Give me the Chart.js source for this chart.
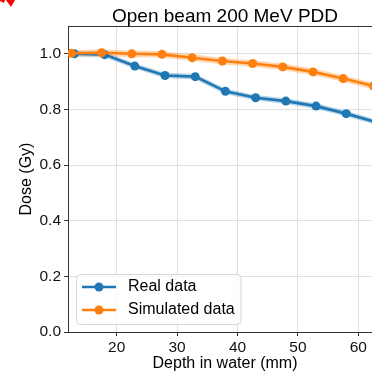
<!DOCTYPE html>
<html>
<head>
<meta charset="utf-8">
<script src="https://cdn.jsdelivr.net/npm/chart.js@4.4.0/dist/chart.umd.min.js"></script>
<style>
  html, body { margin: 0; padding: 0; background: #fff; overflow: hidden; }
  #wrap { width: 400px; height: 375px; }
</style>
</head>
<body>
<div id="wrap"><canvas id="pdd-chart" width="400" height="375"></canvas></div>
<script>
// Data
const realDepth = [13, 18, 23, 28, 33, 38, 43, 48, 53, 58, 63];
const realDose  = [1.000, 0.997, 0.956, 0.922, 0.918, 0.865, 0.842, 0.830, 0.812, 0.785, 0.754];
const realErr   = [0.010, 0.010, 0.010, 0.010, 0.010, 0.010, 0.010, 0.010, 0.010, 0.010, 0.010];

const simDepth = [12.5, 17.5, 22.5, 27.5, 32.5, 37.5, 42.5, 47.5, 52.5, 57.5, 62.5];
const simDose  = [1.002, 1.004, 1.000, 0.998, 0.986, 0.974, 0.965, 0.953, 0.935, 0.911, 0.884];
const simErr   = [0.012, 0.012, 0.012, 0.012, 0.012, 0.012, 0.012, 0.012, 0.012, 0.012, 0.012];

const xTicks = [20, 30, 40, 50, 60];
const yTicks = [0.0, 0.2, 0.4, 0.6, 0.8, 1.0];

const BLUE = '#1f77b4';
const ORANGE = '#ff7f0e';
const FONT = '"Liberation Sans", Arial, sans-serif';

const pts = (xs, ys) => xs.map((x, i) => ({ x: x, y: ys[i] }));
const shift = (ys, es, s) => ys.map((y, i) => y + s * es[i]);

// top spine, legend box, title and the little red mark in the corner
const extras = {
    id: 'extras',
    afterDraw(chart) {
        const ctx = chart.ctx;
        const a = chart.chartArea;
        ctx.save();

        ctx.strokeStyle = '#333';
        ctx.lineWidth = 1;
        ctx.beginPath();
        ctx.moveTo(a.left, a.top + 0.5);
        ctx.lineTo(a.right, a.top + 0.5);
        ctx.stroke();

        // title
        ctx.fillStyle = '#000';
        ctx.font = '19px ' + FONT;
        ctx.textAlign = 'center';
        ctx.textBaseline = 'alphabetic';
        ctx.fillText('Open beam 200 MeV PDD', (a.left + a.right) / 2, 21.5);

        // legend
        const bx = 76.5, by = 274.5, bw = 164.5, bh = 50;
        ctx.fillStyle = 'rgba(255,255,255,0.8)';
        ctx.strokeStyle = '#d6d6d6';
        ctx.beginPath();
        ctx.roundRect(bx, by, bw, bh, 4);
        ctx.fill();
        ctx.stroke();
        const items = [['Real data', BLUE, 287], ['Simulated data', ORANGE, 310]];
        ctx.font = '16px ' + FONT;
        ctx.textAlign = 'left';
        ctx.textBaseline = 'middle';
        items.forEach(([label, col, y]) => {
            ctx.strokeStyle = col;
            ctx.lineWidth = 2.6;
            ctx.beginPath();
            ctx.moveTo(82, y);
            ctx.lineTo(116, y);
            ctx.stroke();
            ctx.fillStyle = col;
            ctx.beginPath();
            ctx.arc(99, y, 4.5, 0, Math.PI * 2);
            ctx.fill();
            ctx.fillStyle = '#000';
            ctx.fillText(label, 128, y);
        });

        // red fragment at the top-left corner
        ctx.fillStyle = '#ff0000';
        ctx.beginPath();
        ctx.moveTo(0, 0); ctx.lineTo(5, 0); ctx.lineTo(4, 3); ctx.lineTo(0, 1);
        ctx.closePath();
        ctx.fill();
        ctx.beginPath();
        ctx.moveTo(6, 0); ctx.lineTo(15, 0); ctx.lineTo(11, 7);
        ctx.closePath();
        ctx.fill();

        ctx.restore();
    }
};

const ctx = document.getElementById('pdd-chart').getContext('2d');
const pddChart = new Chart(ctx, {
    type: 'line',
    data: {
        datasets: [
            {   // simulated line (on top)
                data: pts(simDepth, simDose),
                borderColor: ORANGE, backgroundColor: ORANGE,
                borderWidth: 2.6, pointRadius: 4.5, pointBorderWidth: 0,
                fill: false, order: 0
            },
            {   // real line
                data: pts(realDepth, realDose),
                borderColor: BLUE, backgroundColor: BLUE,
                borderWidth: 2.6, pointRadius: 4.5, pointBorderWidth: 0,
                fill: false, order: 1
            },
            {   // sim band upper
                data: pts(simDepth, shift(simDose, simErr, 1)),
                borderWidth: 0, pointRadius: 0,
                backgroundColor: 'rgba(255,127,14,0.3)',
                fill: '+1', order: 2
            },
            {   // sim band lower
                data: pts(simDepth, shift(simDose, simErr, -1)),
                borderWidth: 0, pointRadius: 0, fill: false, order: 2
            },
            {   // real band upper
                data: pts(realDepth, shift(realDose, realErr, 1)),
                borderWidth: 0, pointRadius: 0,
                backgroundColor: 'rgba(31,119,180,0.3)',
                fill: '+1', order: 3
            },
            {   // real band lower
                data: pts(realDepth, shift(realDose, realErr, -1)),
                borderWidth: 0, pointRadius: 0, fill: false, order: 3
            }
        ]
    },
    options: {
        responsive: false,
        animation: false,
        devicePixelRatio: 1,
        layout: { padding: { top: 26, right: 18, left: 0, bottom: 0 } },
        plugins: {
            legend: { display: false },
            tooltip: { enabled: false },
            title: { display: false }
        },
        scales: {
            x: {
                type: 'linear',
                min: 11.94,
                max: 63.92,
                afterFit: s => { s.height = 43; },
                afterBuildTicks: s => { s.ticks = xTicks.map(v => ({ value: v })); },
                grid: { color: '#e0e0e0', tickColor: '#333', tickLength: 4 },
                border: { color: '#333', width: 1 },
                ticks: {
                    color: '#111', padding: 2,
                    font: { family: FONT, size: 15.5 },
                    callback: v => String(v)
                },
                title: {
                    display: true, text: 'Depth in water (mm)', color: '#000',
                    font: { family: FONT, size: 16 },
                    padding: { top: 2, bottom: 2 }
                }
            },
            y: {
                min: 0,
                max: 1.1,
                afterFit: s => { s.width = 68; },
                afterBuildTicks: s => { s.ticks = yTicks.map(v => ({ value: v })); },
                grid: { color: '#e0e0e0', tickColor: '#333', tickLength: 4 },
                border: { color: '#333', width: 1 },
                ticks: {
                    color: '#111', padding: 3,
                    font: { family: FONT, size: 15.5 },
                    callback: v => v.toFixed(1)
                },
                title: {
                    display: true, text: 'Dose (Gy)', color: '#000',
                    font: { family: FONT, size: 16 },
                    padding: { top: 17, bottom: 0 }
                }
            }
        }
    },
    plugins: [extras]
});
</script>
</body>
</html>
